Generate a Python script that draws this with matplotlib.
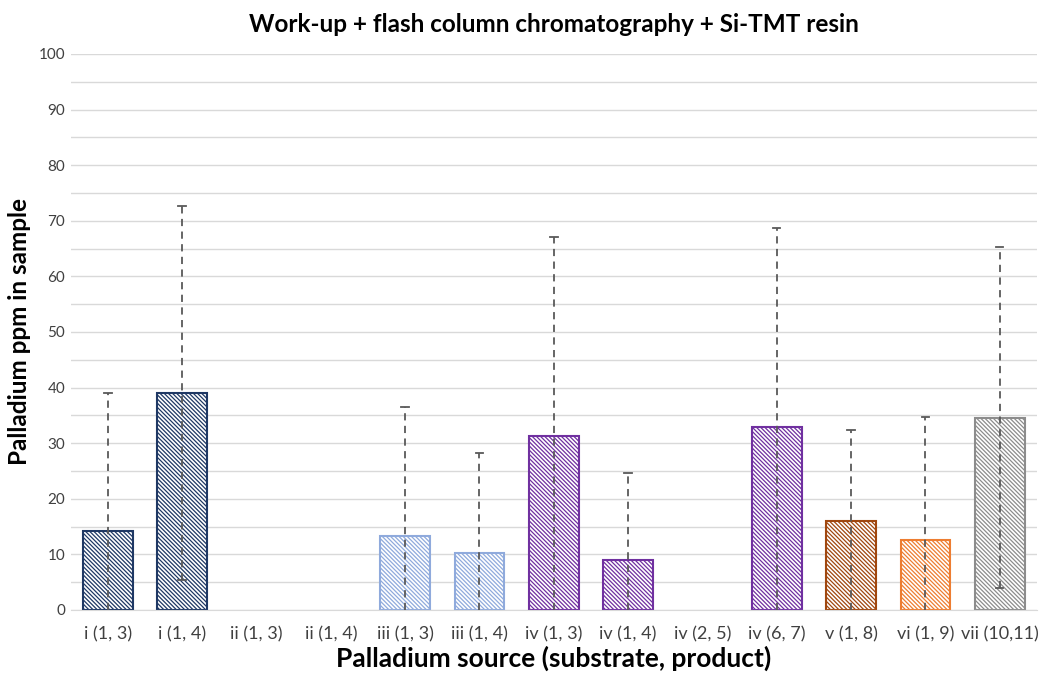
import numpy as np
import matplotlib.pyplot as plt

plt.rcParams["font.family"] = ["Lato", "DejaVu Sans"]
plt.rcParams["hatch.linewidth"] = 0.9

# data
labels = ["i (1, 3)", "i (1, 4)", "ii (1, 3)", "ii (1, 4)", "iii (1, 3)", "iii (1, 4)",
          "iv (1, 3)", "iv (1, 4)", "iv (2, 5)", "iv (6, 7)", "v (1, 8)", "vi (1, 9)",
          "vii (10,11)"]
values = [14.2, 39.0, 0, 0, 13.3, 10.3, 31.3, 8.9, 0, 32.9, 16.0, 12.6, 34.6]
errors = [24.9, 33.7, 0, 0, 23.2, 17.9, 35.7, 15.7, 0, 35.8, 16.4, 22.1, 30.6]
colors = ["#1F3864", "#1F3864", "#1F3864", "#1F3864", "#8FAADC", "#8FAADC",
          "#7030A0", "#7030A0", "#7030A0", "#7030A0", "#A0470F", "#ED7D31", "#8C8C8C"]

fig, ax = plt.subplots(figsize=(10.39, 6.74), dpi=100)
fig.subplots_adjust(left=0.068, right=0.998, top=0.92, bottom=0.095)

x = np.arange(len(labels))
for xi, v, c in zip(x, values, colors):
    if v <= 0:
        continue
    ax.bar(xi, v, width=0.67, color="white", edgecolor=c, hatch="\\" * 8,
           linewidth=1.5, zorder=2)

# error bars (only for non-zero bars), lower part clipped at 0
for xi, v, e in zip(x, values, errors):
    if v <= 0:
        continue
    lo = max(v - e, 0)
    ax.plot([xi, xi], [lo, v + e], ls=(0, (4, 3)), color="#595959", lw=1.3, zorder=3)
    ax.plot([xi - 0.05, xi + 0.05], [v + e, v + e], color="#595959", lw=1.3, zorder=3)
    if v - e > 0:
        ax.plot([xi - 0.05, xi + 0.05], [lo, lo], color="#595959", lw=1.3, zorder=3)

ax.set_xlim(-0.5, len(labels) - 0.5)
ax.set_ylim(0, 100)
ax.set_yticks(np.arange(0, 101, 10))
ax.set_yticks(np.arange(0, 101, 5), minor=True)
ax.yaxis.grid(True, which="both", color="#D9D9D9", lw=1, zorder=0)
ax.set_axisbelow(True)
ax.set_xticks(x)
ax.set_xticklabels(labels, fontsize=13, color="#404040")
ax.tick_params(axis="y", which="both", length=0, labelsize=11, colors="#404040", pad=4)
ax.tick_params(axis="x", length=0, pad=12)
for s in ["top", "right", "left"]:
    ax.spines[s].set_visible(False)
ax.spines["bottom"].set_color("#D9D9D9")

ax.set_title("Work-up + flash column chromatography + Si-TMT resin",
             fontsize=17.5, fontweight="bold", pad=16)
ax.set_xlabel("Palladium source (substrate, product)", fontsize=19, fontweight="bold", labelpad=2)
ax.set_ylabel("Palladium ppm in sample", fontsize=17.5, fontweight="bold")
ax.yaxis.set_label_coords(-0.041, 0.5)

fig.savefig("out.png", dpi=100)
